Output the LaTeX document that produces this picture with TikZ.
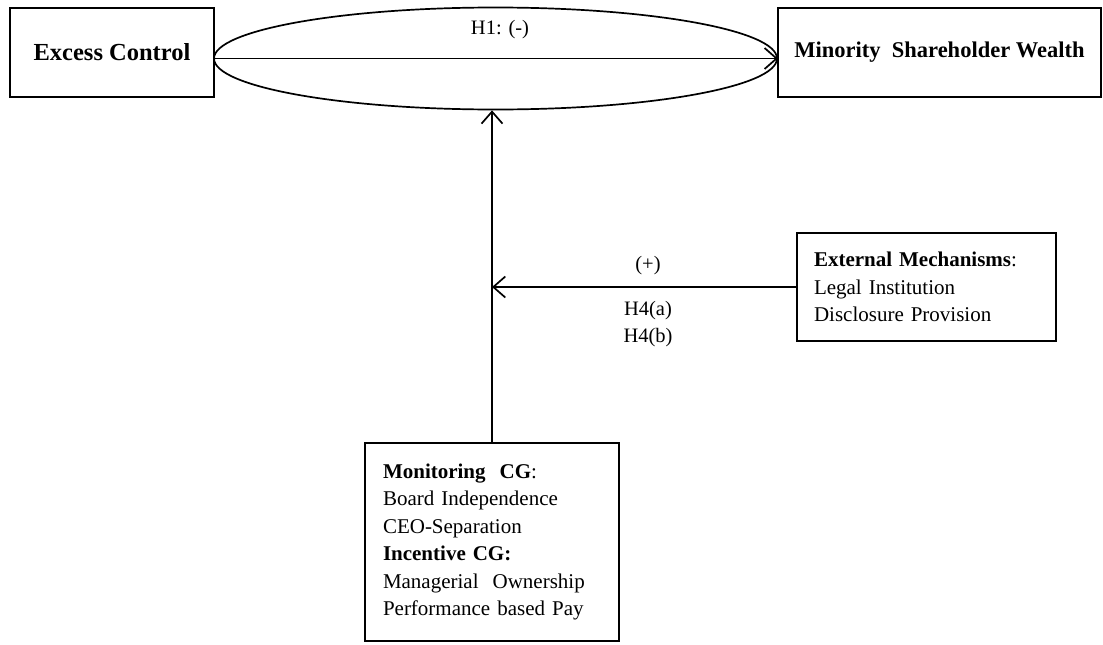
\documentclass[tikz,border=0pt]{standalone}
\usepackage{fontspec}
\setmainfont{Liberation Serif}
\usetikzlibrary{arrows.meta,shapes.geometric}
\tikzset{
  boxnode/.style={draw, line width=1.8pt, inner sep=0pt, align=left},
  arr/.style={line width=1.7pt, -{Straight Barb[length=12pt,width=21pt,line width=1.7pt]}},
  lbl/.style={inner sep=0pt, font=\fontsize{20.5}{24}\selectfont},
  body/.style={font=\fontsize{21}{27.5}\selectfont}
}
\begin{document}
\begin{tikzpicture}[x=1pt,y=-1pt]
\useasboundingbox (0,0) rectangle (1103,645);
% top boxes
\node[boxnode, minimum width=204pt, minimum height=89pt, font=\fontsize{24.5}{28}\selectfont\bfseries] (ec) at (112,52.5) {Excess Control};
\node[boxnode, minimum width=323pt, minimum height=89pt, font=\fontsize{22.5}{27}\selectfont\bfseries] (ms) at (939.5,52.5) {Minority\ \ Shareholder Wealth};
% ellipse
\node[draw, ellipse, line width=1.7pt, minimum width=563pt, minimum height=102pt, inner sep=0pt] (el) at (495.5,58.5) {};
\draw[arr] (el.west) -- (el.east);
\node[lbl] (h1) at (500,30) {H1: (-)};
% monitoring box
\node[boxnode, body, minimum width=254pt, minimum height=198pt, text width=218pt] (mon) at (492,542)
  {\textbf{Monitoring\ \ CG}:\\Board Independence\\CEO-Separation\\\textbf{Incentive CG:}\\Managerial\ \ Ownership\\Performance based Pay};
\draw[arr] (mon.north) -- (mon.north |- el.south);
% external box
\node[boxnode, body, minimum width=259pt, minimum height=108pt, text width=225pt] (ext) at (926.5,287)
  {\textbf{External Mechanisms}:\\Legal\ Institution\\Disclosure Provision};
\coordinate (ej) at (ext.west -| mon.north);
\draw[arr] (ext.west) -- (ej);
\node[lbl] (plus) at (648,266) {(+)};
\node[lbl] (h4a) at (648,311) {H4(a)};
\node[lbl] (h4b) at (648,338) {H4(b)};
\end{tikzpicture}
\end{document}
